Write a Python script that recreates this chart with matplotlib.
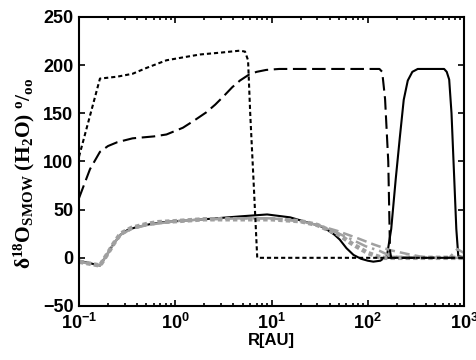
import numpy as np
import matplotlib
matplotlib.use('Agg')
import matplotlib.pyplot as plt
from matplotlib.ticker import FuncFormatter, LogLocator, MultipleLocator

plt.rcParams['mathtext.fontset'] = 'custom'
plt.rcParams['mathtext.rm'] = 'Liberation Serif:bold'
plt.rcParams['mathtext.it'] = 'Liberation Serif:italic:bold'
plt.rcParams['mathtext.bf'] = 'Liberation Serif:bold'
plt.rcParams['mathtext.sf'] = 'Liberation Sans:bold'

# black dotted
r_dot = [0.1, 0.165, 0.25, 0.36, 0.5, 0.81, 1.2, 1.8, 3.0, 4.7, 5.3, 5.7, 6.0, 6.5, 7.1, 100, 1000]
v_dot = [105, 186, 188, 191, 197, 205, 208, 211, 213, 215, 214, 205, 150, 80, 0, 0, 0]

# black dashed
r_dash = [0.1, 0.13, 0.165, 0.2, 0.25, 0.36, 0.6, 0.81, 1.2, 1.6, 2.1, 2.6, 3.2, 3.9, 4.7, 5.8, 7.0, 8.8, 12, 20, 60, 132,
          141, 151, 163, 170, 175, 1000]
v_dash = [62, 92, 110, 116, 120, 124, 126, 128, 135, 143, 151, 159, 168, 177, 184, 190, 193, 195, 196, 196, 196, 196,
          193, 165, 100, 7, 0, 0]

# black solid
r_sol = [0.1, 0.165, 0.2, 0.23, 0.27, 0.32, 0.4, 0.55, 0.75, 1.0, 2.0, 4.7, 9, 15.6, 25, 32, 38, 45, 51, 60, 71, 85,
         100, 114, 135, 158, 175, 195, 215, 236, 260, 290, 330, 400, 620, 660, 700, 740, 790, 830, 870, 1000]
v_sol = [-3, -8, 5, 15, 24, 29, 32, 35, 37, 38, 40, 43, 45, 42, 36, 33, 29, 24, 19, 10, 3, -1,
         -3, -4, -3, 2, 30, 82, 125, 164, 184, 193, 196, 196, 196, 193, 185, 150, 82, 30, 2, 0]

# grey curves
r_g1 = [0.1, 0.165, 0.2, 0.23, 0.27, 0.35, 0.5, 1.0, 2.0, 5.0, 10, 20, 30, 48, 80, 114, 170, 257, 410, 700, 850, 1000]
v_g1 = [-4, -8, 5, 15, 24, 30, 34, 38, 40, 41, 41, 38, 34, 28, 20, 14, 8, 4, 0, 0, 9, 5]
r_g2 = [0.1, 0.165, 0.2, 0.23, 0.27, 0.35, 0.5, 1.0, 2.0, 5.0, 10, 20, 30, 45, 65, 95, 134, 170, 250, 1000]
v_g2 = [-4, -8, 5, 15, 24, 30, 34, 38, 40, 41, 41, 38, 34, 27, 20, 12, 7, 2, 0, 0]
r_g3 = [0.1, 0.165, 0.2, 0.23, 0.27, 0.35, 0.5, 0.66, 1.0, 2.0, 5.0, 10, 20, 30, 50, 70, 100, 140, 1000]
v_g3 = [-4, -8, 5, 15, 25, 31, 35, 37, 38, 40, 40, 40, 38, 34, 24, 14, 5, 0, 0]

fig, ax = plt.subplots(figsize=(4.76, 3.6), dpi=100)
plt.subplots_adjust(left=0.166, right=0.975, bottom=0.15, top=0.953)

grey = '#a0a0a0'
ax.plot(r_sol, v_sol, color='black', lw=1.5)
ax.plot(r_g1, v_g1, color=grey, lw=1.8, linestyle=(0, (4, 2)))
ax.plot(r_g2, v_g2, color=grey, lw=1.8, linestyle=(0, (5, 2, 1, 2)))
ax.plot(r_g3, v_g3, color=grey, lw=3.2, linestyle=(0, (1, 0.7)))
ax.plot(r_dash, v_dash, color='black', lw=1.5, linestyle=(0, (6.5, 2.7)))
ax.plot(r_dot, v_dot, color='black', lw=1.5, linestyle=(0, (2, 1.4)))

ax.set_xscale('log')
ax.set_xlim(0.1, 1000)
ax.set_ylim(-50, 250)
ax.yaxis.set_major_locator(MultipleLocator(50))
ax.xaxis.set_major_locator(LogLocator(base=10, numticks=10))
ax.xaxis.set_minor_locator(LogLocator(base=10, subs=np.arange(2, 10), numticks=20))
ax.xaxis.set_major_formatter(FuncFormatter(lambda x, pos: r'$\mathsf{10^{%d}}$' % round(np.log10(x))))

ax.tick_params(which='both', direction='in', top=True, right=True, width=1.2)
ax.tick_params(which='major', length=4, labelsize=13, pad=4)
ax.tick_params(axis='x', which='major', pad=5)
ax.tick_params(which='minor', length=2.5)
for lab in ax.get_yticklabels():
    lab.set_fontfamily('Liberation Sans')
    lab.set_fontweight('bold')
for s in ax.spines.values():
    s.set_linewidth(1.5)

ax.set_xlabel('R[AU]', fontsize=12, fontfamily='Liberation Sans', fontweight='bold', labelpad=0)
ax.set_ylabel(r'δ$^{18}$O$_{\mathrm{SMOW}}$ (H$_2$O) $^{\mathrm{o}}$/$_{\mathrm{oo}}$',
              fontsize=15.5, fontfamily='Liberation Serif', fontweight='bold')
ax.yaxis.set_label_coords(-0.11, 0.46)

plt.savefig('out.png', dpi=100)
